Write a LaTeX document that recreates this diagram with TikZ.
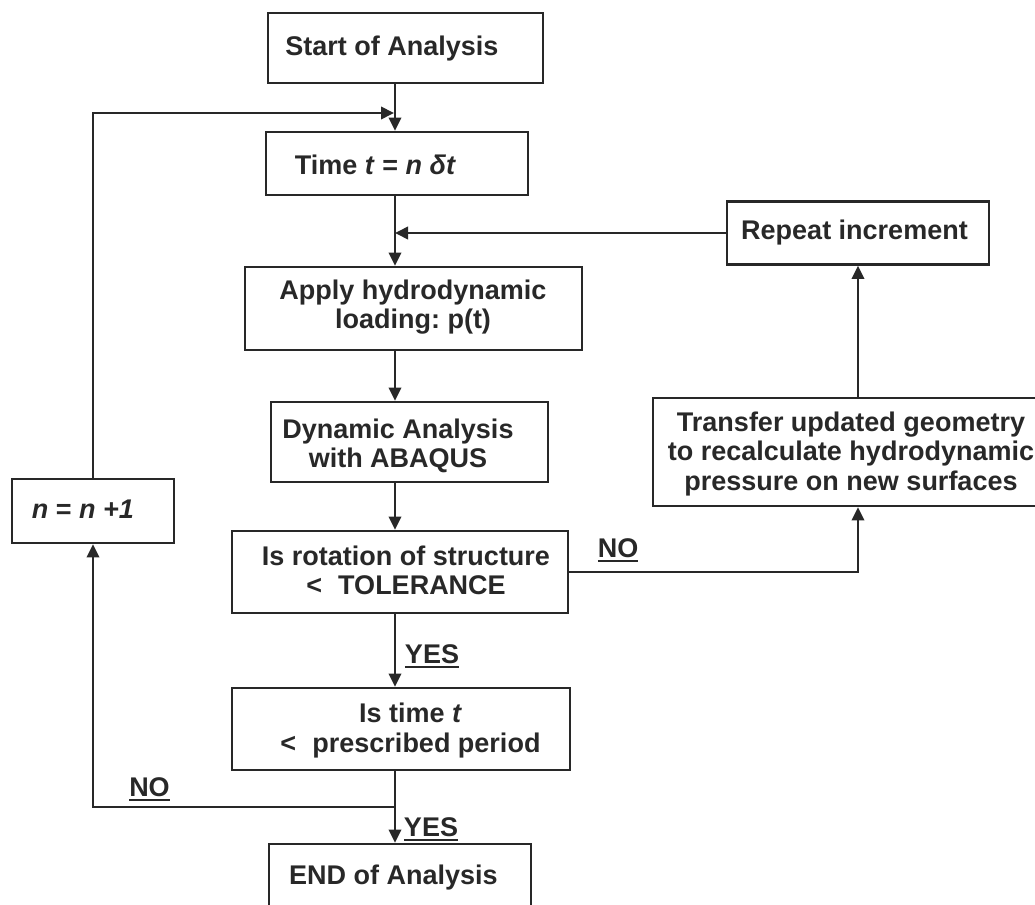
\documentclass[tikz,border=0pt]{standalone}
\usepackage{fontspec}
\setmainfont{Liberation Sans}
\usetikzlibrary{positioning,arrows.meta}
\definecolor{ink}{RGB}{40,40,40}
\frenchspacing
% underlined branch answers
\newcommand{\answer}[1]{\setbox0\hbox{#1}\rlap{\rule[-4.4pt]{\wd0}{2pt}}\box0}
\tikzset{font={\fontsize{27pt}{29.5pt}\selectfont\bfseries}}

\begin{document}
\begin{tikzpicture}[x=1pt,y=-1pt]
	\useasboundingbox (0,0) rectangle (1035,904);
	\begin{scope}[color=ink]
		\tikzstyle{frame}=[draw, line width=2.7pt, inner sep=0pt]
		\tikzstyle{txt}=[align=center, inner sep=0pt]
		\tikzstyle{arr}=[line width=2pt, -{Triangle[length=13pt,width=12.5pt]}]

		% boxes, then their texts
		\node[frame, minimum width=275pt, minimum height=70pt] (start) at (405.5,48) {};
		\node[txt] (start-t) at (392,49) {Start of Analysis};
		\node[frame, minimum width=262pt, minimum height=63pt] (tstep) at (397,163.5) {};
		\node[txt] (tstep-t) at (375.5,165) {Time \textit{t} = \textit{n δt}};
		\node[frame, minimum width=337pt, minimum height=83pt] (load) at (413.5,308.5) {};
		\node[txt] (load-t) at (413,307) {Apply hydrodynamic\\loading: p(t)};
		\node[frame, minimum width=262pt, minimum height=63pt] (rept) at (858,233) {};
		\node[txt] (rept-t) at (854.5,233) {Repeat increment};
		\node[frame, minimum width=277pt, minimum height=80pt] (dyn) at (409.5,442) {};
		\node[txt] (dyn-t) at (398,446) {Dynamic Analysis\\with ABAQUS};
		\node[frame, minimum width=396pt, minimum height=108pt] (transfer) at (851,452) {};
		\node[txt] (transfer-t) at (851,454) {Transfer updated geometry\\to recalculate hydrodynamic\\pressure on new surfaces};
		\node[frame, minimum width=162pt, minimum height=64pt] (incr) at (93,511) {};
		\node[txt] (incr-t) at (83,509) {\textit{n} = \textit{n} \textit{+1}};
		\node[frame, minimum width=336pt, minimum height=82pt] (rotchk) at (400,572) {};
		\node[txt] (rotchk-t) at (406,570.5) {Is rotation of structure\\<\hspace{0.6em}TOLERANCE};
		\node[frame, minimum width=338pt, minimum height=82pt] (timechk) at (401,729) {};
		\node[txt] (timechk-t) at (410.5,730.5) {Is time \textit{t}\\<\hspace{0.6em}prescribed period};
		\node[frame, minimum width=262pt, minimum height=63pt] (finish) at (400,875.5) {};
		\node[txt] (finish-t) at (393.5,878) {END of Analysis};

		% branch answers
		\node[txt] (no-a) at (618,550) {\answer{NO}};
		\node[txt] (yes-a) at (432,656) {\answer{YES}};
		\node[txt] (no-b) at (149.5,789) {\answer{NO}};
		\node[txt] (yes-b) at (431,829) {\answer{YES}};

		\coordinate (col) at (395,0);
		\coordinate (join) at (394,113);
		\coordinate (split) at (395,807);

		\draw[arr] (start.south -| col) -- (tstep.north -| col);
		\draw[arr] (incr.north) |- (join);
		\draw[arr] (tstep.south -| col) -- (load.north -| col);
		\draw[arr] (rept.west) -- (rept.west -| col);
		\draw[arr] (load.south -| col) -- (dyn.north -| col);
		\draw[arr] (dyn.south -| col) -- (rotchk.north -| col);
		\draw[arr] (rotchk.east) -| (transfer.south -| rept.south);
		\draw[arr] (transfer.north -| rept.south) -- (rept.south);
		\draw[arr] (rotchk.south -| col) -- (timechk.north -| col);
		\draw[arr] (timechk.south -| col) -- (finish.north -| col);
		\draw[arr] (split) -| (incr.south);

	\end{scope}
\end{tikzpicture}
\end{document}
